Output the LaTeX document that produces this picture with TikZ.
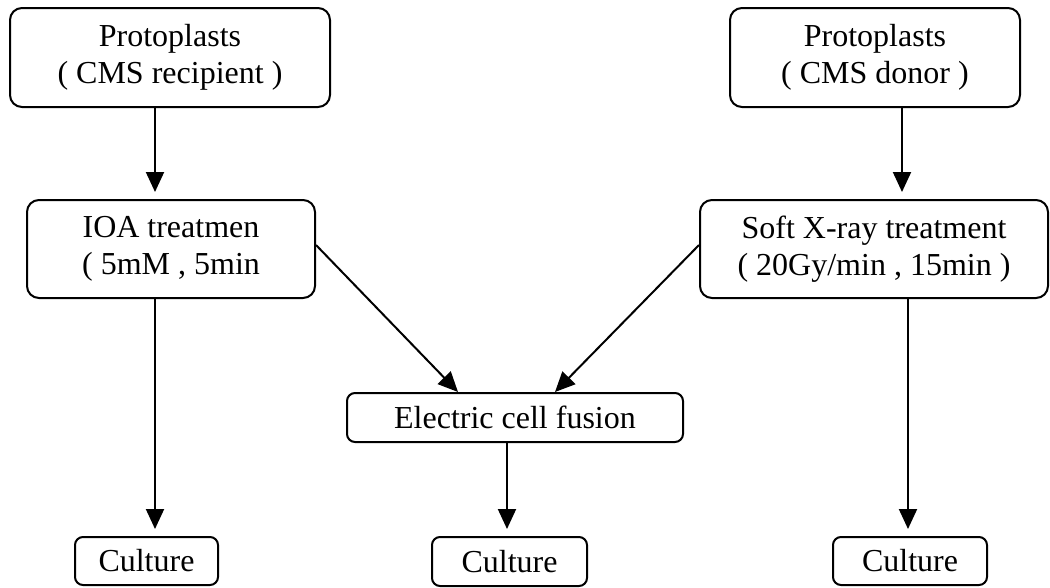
\documentclass[tikz,border=0pt]{standalone}
\usepackage{fontspec}
\setmainfont{Liberation Serif}
\usetikzlibrary{arrows.meta}

\begin{document}
\begin{tikzpicture}[x=1pt, y=-1pt,
    box/.style={draw, line width=2pt, rounded corners=12pt, align=center, inner sep=0pt,
      font=\fontsize{32}{37}\selectfont},
    smallbox/.style={box, rounded corners=8pt},
    arr/.style={line width=2pt, -{Triangle[length=20pt, width=18pt]}},
    vert/.style={arr, shorten >=7pt}]
    \useasboundingbox (0, 0) rectangle (1050, 587);

    % left branch
    \node [box, minimum width=320pt, minimum height=99pt] (protoA) at (170, 57.5) {Protoplasts\\( CMS recipient )};
    \node [box, minimum width=288pt, minimum height=98pt] (treatA) at (171, 249) {IOA treatmen\\( 5mM , 5min};
    \node [smallbox, minimum width=143pt, minimum height=48pt] (cultA) at (146.5, 561) {Culture};

    % right branch
    \node [box, minimum width=290pt, minimum height=99pt] (protoC) at (875, 57.5) {Protoplasts\\( CMS donor )};
    \node [box, minimum width=348pt, minimum height=98pt] (treatD) at (874, 249) {Soft X-ray treatment\\( 20Gy/min , 15min )};
    \node [smallbox, minimum width=154pt, minimum height=48pt] (cultH) at (910, 561) {Culture};

    % fusion
    \node [smallbox, minimum width=336pt, minimum height=49pt] (fusion) at (515, 417.5) {Electric cell fusion};
    \node [smallbox, minimum width=155pt, minimum height=49pt] (cultF) at (509.5, 561.5) {Culture};

    \draw [vert] ([xshift=-15pt]protoA.south) -- ([xshift=-15pt]protoA.south |- treatA.north);
    \draw [vert] ([xshift=-16pt]treatA.south) -- ([xshift=-16pt]treatA.south |- cultA.north);
    \draw [vert] ([xshift=27pt]protoC.south) -- ([xshift=27pt]protoC.south |- treatD.north);
    \draw [vert] ([xshift=34pt]treatD.south) -- ([xshift=34pt]treatD.south |- cultH.north);

    \draw [arr] ([yshift=4pt]treatA.east) -- ([xshift=-57pt]fusion.north);
    \draw [arr] ([yshift=4pt]treatD.west) -- ([xshift=40pt]fusion.north);
    \draw [vert] ([xshift=-8pt]fusion.south) -- ([xshift=-8pt]fusion.south |- cultF.north);
\end{tikzpicture}
\end{document}
